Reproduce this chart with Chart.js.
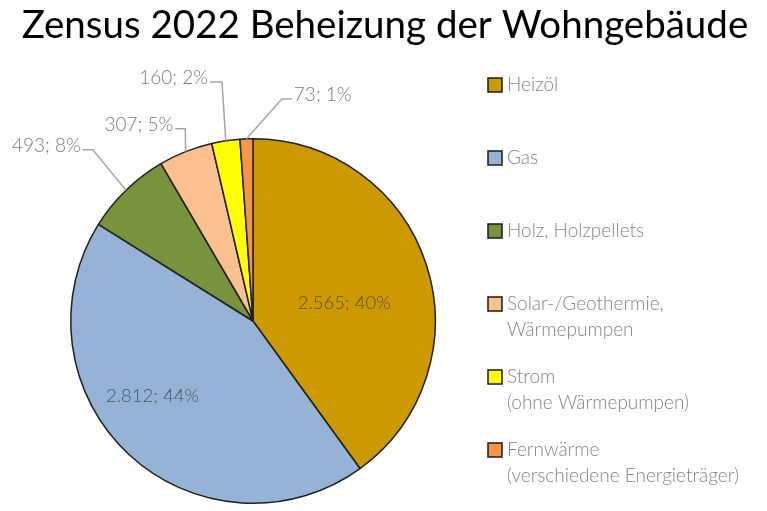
<!DOCTYPE html>
<html>
<head>
<meta charset="utf-8">
<script src="https://cdn.jsdelivr.net/npm/chart.js@4/dist/chart.umd.min.js"></script>
<style>
html,body{margin:0;padding:0;background:#fff;}
#wrap{position:relative;width:767px;height:511px;}
</style>
</head>
<body>
<div id="wrap"><canvas id="c" width="767" height="511"></canvas></div>
<script>
// ---- data ----
const titleText = 'Zensus 2022 Beheizung der Wohngebäude';
const categories = [
  ['Heizöl'],
  ['Gas'],
  ['Holz, Holzpellets'],
  ['Solar-/Geothermie,', 'Wärmepumpen'],
  ['Strom', '(ohne Wärmepumpen)'],
  ['Fernwärme', '(verschiedene Energieträger)']
];
const values = [2565, 2812, 493, 307, 160, 73];
const colors = ['#CC9A00', '#95B3D7', '#77933C', '#FAC090', '#FFFF00', '#F79646'];

// ---- label placement (layout only) ----
const placement = [
  {inside: true, dAngle: 6.9, r: 0.51},
  {inside: true, dAngle: 10.1, r: 0.69},
  {inside: false, dAngle: 1.1, r: 1.287, side: -1, len: 10},
  {inside: false, dAngle: 2.3, r: 1.118, side: -1, len: 10},
  {inside: false, dAngle: 1.2, r: 1.322, side: -1, len: 12},
  {inside: false, dAngle: 9.45, r: 1.229, side: 1, len: 10}
];

const FONT = 'Lato, "Open Sans", sans-serif';
const total = values.reduce((a, b) => a + b, 0);
function fmtDe(n) {
  return String(n).replace(/\B(?=(\d{3})+(?!\d))/g, '.');
}

const titlePlugin = {
  id: 'bigTitle',
  afterDraw(chart) {
    const ctx = chart.ctx;
    ctx.save();
    ctx.font = '100px ' + FONT;
    const size = 100 * 726 / ctx.measureText(titleText).width;
    ctx.font = size.toFixed(1) + 'px ' + FONT;
    ctx.fillStyle = '#000';
    ctx.textAlign = 'center';
    ctx.textBaseline = 'alphabetic';
    ctx.fillText(titleText, 385, 38);
    ctx.restore();
  }
};

const labelPlugin = {
  id: 'sliceLabels',
  afterDatasetsDraw(chart) {
    const ctx = chart.ctx;
    const meta = chart.getDatasetMeta(0);
    ctx.save();
    ctx.textBaseline = 'middle';
    meta.data.forEach((arc, i) => {
      const {x, y, startAngle, endAngle, outerRadius} =
        arc.getProps(['x', 'y', 'startAngle', 'endAngle', 'outerRadius'], true);
      const mid = (startAngle + endAngle) / 2;
      const txt = fmtDe(values[i]) + '; ' + Math.round(values[i] / total * 100) + '%';
      const p = placement[i];
      const a = mid + p.dAngle * Math.PI / 180;
      if (p.inside) {
        ctx.font = '300 18.5px ' + FONT;
        ctx.fillStyle = 'rgba(45,45,45,0.72)';
        ctx.textAlign = 'center';
        ctx.fillText(txt, x + Math.cos(a) * outerRadius * p.r, y + Math.sin(a) * outerRadius * p.r);
      } else {
        const ex = x + Math.cos(mid) * outerRadius;
        const ey = y + Math.sin(mid) * outerRadius;
        const kx = x + Math.cos(a) * outerRadius * p.r;
        const ky = y + Math.sin(a) * outerRadius * p.r;
        const hx = kx + p.side * p.len;
        ctx.strokeStyle = '#A6A6A6';
        ctx.lineWidth = 1.5;
        ctx.beginPath();
        ctx.moveTo(ex, ey);
        ctx.lineTo(kx, ky);
        ctx.lineTo(hx, ky);
        ctx.stroke();
        ctx.font = '300 19px ' + FONT;
        ctx.fillStyle = '#7A7A7A';
        ctx.textAlign = p.side < 0 ? 'right' : 'left';
        ctx.fillText(txt, hx + p.side * 2, ky - 4);
      }
    });
    ctx.restore();
  }
};

const legendPlugin = {
  id: 'sideLegend',
  afterDraw(chart) {
    const ctx = chart.ctx;
    const ca = chart.chartArea;
    const x0 = ca.right + 52;
    const y0 = ca.top - 53;
    const step = 73;
    const lineH = 26;
    ctx.save();
    ctx.font = '300 19px ' + FONT;
    ctx.textBaseline = 'middle';
    ctx.textAlign = 'left';
    chart.data.labels.forEach((lab, i) => {
      const cy = y0 + i * step;
      ctx.fillStyle = colors[i];
      ctx.fillRect(x0, cy - 7, 14, 14);
      ctx.strokeStyle = '#1a1a1a';
      ctx.lineWidth = 1.5;
      ctx.strokeRect(x0, cy - 7, 14, 14);
      ctx.fillStyle = '#858585';
      lab.forEach((line, j) => ctx.fillText(line, x0 + 19, cy + j * lineH));
    });
    ctx.restore();
  }
};

new Chart(document.getElementById('c'), {
  type: 'pie',
  data: {
    labels: categories,
    datasets: [{
      data: values,
      backgroundColor: colors,
      borderColor: '#1f1f1f',
      borderWidth: 1.5
    }]
  },
  options: {
    responsive: false,
    animation: false,
    layout: {padding: {left: 70, right: 331, top: 138, bottom: 7}},
    plugins: {
      legend: {display: false},
      tooltip: {enabled: false},
      title: {display: false}
    }
  },
  plugins: [labelPlugin, legendPlugin, titlePlugin]
});
</script>
</body>
</html>
